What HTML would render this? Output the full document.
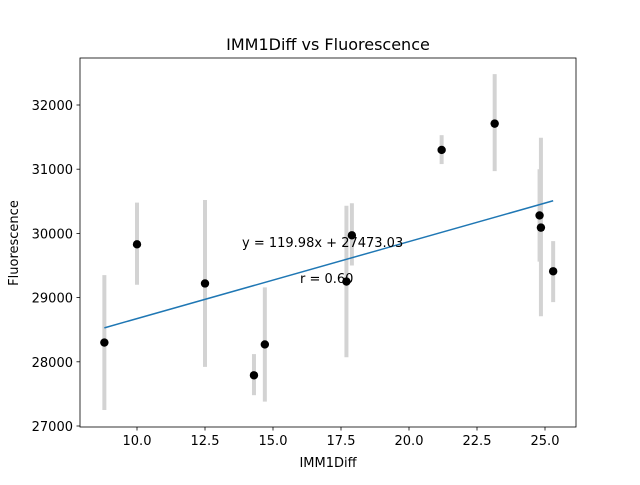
<!DOCTYPE html>
<html><head><meta charset="utf-8"><style>
body{margin:0;background:#fff;font-family:"Liberation Sans","DejaVu Sans",sans-serif}
svg text{font-family:"DejaVu Sans","Liberation Sans",sans-serif}
</style></head><body>
<svg id="chart" width="640" height="480" xmlns="http://www.w3.org/2000/svg"></svg>
<script>
const xVals=[8.8,10.0,12.5,14.3,14.7,17.7,17.9,21.2,23.15,24.8,24.85,25.3];
const yVals=[28300,29830,29220,27790,28270,29250,29970,31300,31710,30280,30090,29410];
const errLow=[27250,29200,27920,27480,27380,28070,29500,31080,30970,29560,28710,28930];
const errHigh=[29350,30480,30520,28120,29160,30430,30470,31530,32480,31000,31490,29880];
const xTicks=[10.0,12.5,15.0,17.5,20.0,22.5,25.0];
const yTicks=[27000,28000,29000,30000,31000,32000];
const slope=119.98, intercept=27473.03;
const NS="http://www.w3.org/2000/svg";
const svg=document.getElementById('chart');
const L=80,R=576,T=58,B=427;
const X=v=>137+(v-10)*27.2;
const Y=v=>426-(v-27000)*0.0642;
function el(t,a,txt){const e=document.createElementNS(NS,t);for(const k in a)e.setAttribute(k,a[k]);if(txt!==undefined)e.textContent=txt;svg.appendChild(e);return e;}
for(let i=0;i<xVals.length;i++){
 const e=el('line',{x1:X(xVals[i]),x2:X(xVals[i]),y1:Y(errLow[i]),y2:Y(errHigh[i]),stroke:'#d3d3d3','stroke-width':4});
 
 
}
const xmin=Math.min(...xVals),xmax=Math.max(...xVals);
const ln=el('line',{x1:X(xmin),y1:Y(slope*xmin+intercept),x2:X(xmax),y2:Y(slope*xmax+intercept),stroke:'#1f77b4','stroke-width':1.5});


for(let i=0;i<xVals.length;i++){
 const c=el('circle',{cx:X(xVals[i]),cy:Y(yVals[i]),r:4.2,fill:'#000'});
 
 
}
const fr=el('rect',{x:L,y:T,width:R-L,height:B-T,fill:'none',stroke:'#000','stroke-width':0.8});


xTicks.forEach(t=>{
 el('line',{x1:X(t),x2:X(t),y1:B,y2:B+3.5,stroke:'#000','stroke-width':0.8});
 const tx=el('text',{x:X(t),y:B+18,'font-size':13,'text-anchor':'middle'},t.toFixed(1));
 
 
});
yTicks.forEach(t=>{
 el('line',{x1:L,x2:L-3.5,y1:Y(t),y2:Y(t),stroke:'#000','stroke-width':0.8});
 const tx=el('text',{x:L-7,y:Y(t)+5,'font-size':13,'text-anchor':'end'},t);
 
 
});
const ti=el('text',{x:328,y:50,'font-size':16,'text-anchor':'middle'},'IMM1Diff vs Fluorescence');

const xl=el('text',{x:328,y:467,'font-size':13,'text-anchor':'middle'},'IMM1Diff');

const yl=el('text',{x:18,y:243,'font-size':13,'text-anchor':'middle',transform:'rotate(-90 18 243)'},'Fluorescence');

const eq=el('text',{x:242,y:247,'font-size':13},'y = 119.98x + 27473.03');

const rr=el('text',{x:300,y:283,'font-size':13},'r = 0.60');

</script>
</body></html>
